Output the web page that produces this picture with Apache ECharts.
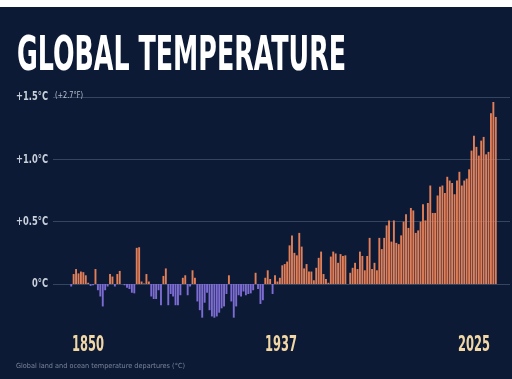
<!DOCTYPE html>
<html><head><meta charset="utf-8">
<script src="https://cdn.jsdelivr.net/npm/echarts@6/dist/echarts.min.js"></script>
<style>html,body{margin:0;padding:0;background:#fff}#c{width:512px;height:379px}</style>
</head><body><div id="c"></div>
<script>
const titleText = 'GLOBAL TEMPERATURE';
const footerText = 'Global land and ocean temperature departures (°C)';
const fNote = '(+2.7°F)';
const startYear = 1850;
const anomalies = [
 -0.02,0.08,0.12,0.085,0.10,0.095,0.07,0.01,-0.015,-0.01,
 0.12,-0.05,-0.10,-0.18,-0.05,-0.02,0.08,0.06,-0.02,0.08,
 0.105,0.0,-0.01,-0.03,-0.04,-0.07,-0.075,0.29,0.295,0.02,
 0.005,0.08,0.02,-0.10,-0.12,-0.12,-0.05,-0.17,0.065,0.125,
 -0.17,-0.08,-0.10,-0.17,-0.17,-0.09,0.05,0.07,-0.09,-0.02,
 0.11,0.05,-0.14,-0.21,-0.27,-0.15,-0.07,-0.21,-0.26,-0.27,
 -0.26,-0.23,-0.195,-0.18,-0.08,0.07,-0.14,-0.27,-0.18,-0.09,
 -0.10,-0.06,-0.09,-0.08,-0.075,-0.05,0.09,-0.04,-0.16,-0.13,
 0.05,0.11,0.04,-0.08,0.07,0.02,0.05,0.15,0.16,0.18,
 0.31,0.39,0.25,0.23,0.41,0.30,0.125,0.16,0.10,0.10,
 0.03,0.13,0.21,0.26,0.08,0.04,0.01,0.22,0.26,0.245,
 0.17,0.24,0.225,0.23,0.0,0.09,0.13,0.17,0.12,0.26,
 0.225,0.11,0.225,0.37,0.12,0.17,0.11,0.37,0.28,0.37,
 0.47,0.51,0.34,0.51,0.33,0.32,0.39,0.50,0.56,0.45,
 0.61,0.59,0.41,0.43,0.50,0.64,0.51,0.65,0.79,0.57,
 0.57,0.71,0.78,0.79,0.73,0.86,0.83,0.81,0.72,0.83,
 0.90,0.79,0.83,0.845,0.92,1.07,1.19,1.10,1.03,1.15,
 1.18,1.04,1.06,1.37,1.46,1.34
];
const years = anomalies.map((_, i) => String(startYear + i));
const yTickValues = [0, 0.5, 1.0, 1.5];
const yTickLabels = ['0°C', '+0.5°C', '+1.0°C', '+1.5°C'];
const xTickLabels = ['1850', '1937', '2025'];

const BG = '#0c1a35';
const FONT = '"DejaVu Sans Condensed"';

const cv = document.createElement('canvas').getContext('2d');
function widthOf(text, font) { cv.font = font; return cv.measureText(text).width; }

const titleFont = 'bold 48px ' + FONT;
const yFont = 'bold 13px ' + FONT;
const xFont = 'bold 21px ' + FONT;
const noteFont = '8px ' + FONT;
const footFont = '7px "DejaVu Sans"';
const yScale = 32 / widthOf('+1.5°C', yFont);
const xScale = 32 / widthOf('1850', xFont);

const chart = echarts.init(document.getElementById('c'), null, {renderer: 'canvas'});
chart.setOption({
  backgroundColor: BG,
  animation: false,
  grid: [
    {left: 70, right: 15, top: 97, bottom: 32.65},
    {left: 53, right: 2, top: 97, bottom: 95},
    {left: 88, right: 38, top: 97, bottom: 33.5}
  ],
  xAxis: [
    {gridIndex: 0, type: 'category', data: years, show: false},
    {gridIndex: 1, type: 'value', show: false},
    {gridIndex: 2, type: 'category', data: xTickLabels, boundaryGap: false, show: false}
  ],
  yAxis: [
    {gridIndex: 0, type: 'value', min: -0.5, max: 1.5, show: false},
    {gridIndex: 1, type: 'value', min: 0, max: 1.5, interval: 0.5,
     axisLine: {show: false}, axisTick: {show: false}, axisLabel: {show: false},
     splitLine: {show: true, lineStyle: {color: '#34455f', width: 1}}},
    {gridIndex: 2, type: 'value', show: false}
  ],
  series: [{
    type: 'bar', xAxisIndex: 0, yAxisIndex: 0, data: anomalies,
    barCategoryGap: '22%',
    itemStyle: {color: p => p.value < 0 ? '#7d6cd3' : '#e27f58'}
  }]
});

// tick labels placed through the axes' own scales, condensed horizontally
const gfx = [
  {type: 'rect', left: 0, top: 0, shape: {width: 512, height: 7}, style: {fill: '#ffffff'}},
  {type: 'text', x: 17, y: 34, scaleX: 329 / widthOf(titleText, titleFont),
   style: {text: titleText, fill: '#ffffff', font: titleFont, textVerticalAlign: 'top'}},
  {type: 'text', x: 55, y: 96, scaleX: 28 / widthOf(fNote, noteFont),
   style: {text: fNote, fill: '#b9c1ce', font: noteFont, textVerticalAlign: 'middle'}},
  {type: 'text', x: 16, y: 366, scaleX: 169 / widthOf(footerText, footFont),
   style: {text: footerText, fill: '#7a8599', font: footFont, textVerticalAlign: 'middle'}}
];
yTickValues.forEach((v, k) => {
  const py = chart.convertToPixel({yAxisIndex: 1}, v);
  gfx.push({type: 'text', x: 48, y: py, scaleX: yScale,
    style: {text: yTickLabels[k], fill: '#c9d0dc', font: yFont, textAlign: 'right', textVerticalAlign: 'middle'}});
});
const axisY = chart.getModel().getComponent('grid', 2).coordinateSystem.getRect();
xTickLabels.forEach((lab) => {
  const px = chart.convertToPixel({xAxisIndex: 2}, lab);
  gfx.push({type: 'text', x: px, y: axisY.y + axisY.height, scaleX: xScale,
    style: {text: lab, fill: '#f1d7a6', font: xFont, textAlign: 'center', textVerticalAlign: 'middle'}});
});
chart.setOption({graphic: gfx});
</script></body></html>
